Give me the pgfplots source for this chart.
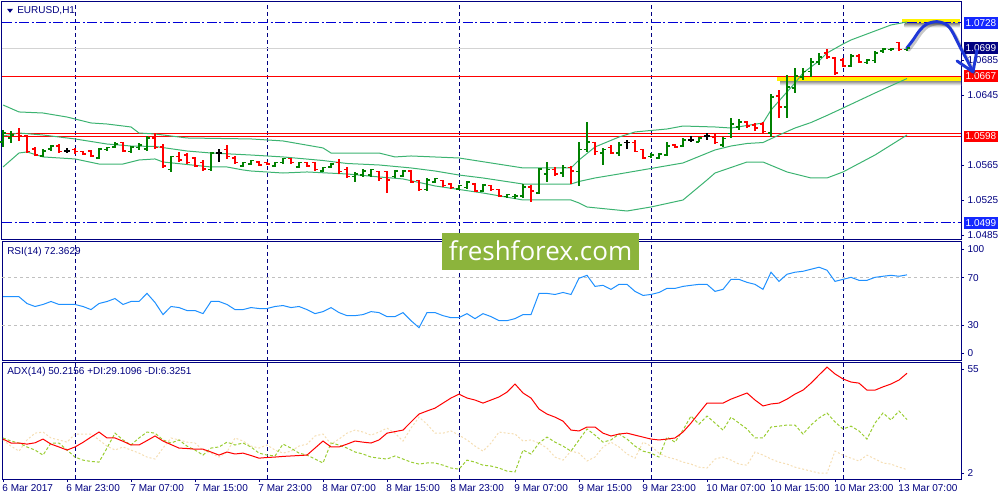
\documentclass[border=0pt]{standalone}
\usepackage{pgfplots}
\pgfplotsset{compat=1.18}
\usepackage{pgfplotstable}
\usepackage{fontspec}
\setmainfont{Liberation Sans}
\newfontfamily\wmfont{Open Sans}
\newcommand\lbl{\fontsize{7.5}{8}\selectfont}
\definecolor{navy}{RGB}{0,0,128}
\definecolor{mtblue}{RGB}{20,40,255}
\definecolor{lvlblue}{RGB}{0,0,215}
\definecolor{bargreen}{RGB}{0,128,0}
\definecolor{barred}{RGB}{255,0,0}
\definecolor{bb}{RGB}{60,179,113}
\definecolor{dodger}{RGB}{30,144,255}
\definecolor{ygreen}{RGB}{154,205,50}
\definecolor{wheat}{RGB}{245,222,179}
\definecolor{lgray}{RGB}{211,211,211}
\definecolor{rsigray}{RGB}{192,192,192}
\definecolor{wmgreen}{RGB}{140,180,60}
\definecolor{arrowblue}{RGB}{30,55,215}

\pgfdeclareplotmark{otick}{\pgfpathmoveto{\pgfqpoint{-2.4pt}{0pt}}\pgfpathlineto{\pgfqpoint{0pt}{0pt}}\pgfusepathqstroke}
\pgfdeclareplotmark{ctick}{\pgfpathmoveto{\pgfqpoint{0pt}{0pt}}\pgfpathlineto{\pgfqpoint{2.4pt}{0pt}}\pgfusepathqstroke}

\tikzset{pbox/.style={text=white, font=\lbl, inner xsep=1.3pt, inner ysep=0pt, minimum height=8.8pt, anchor=west, xshift=2pt}}

\newcommand\ohlc[2]{%
\addplot[#2, only marks, mark=otick, line width=0.8pt, mark options={solid},
  error bars/.cd, y dir=both, y explicit, error mark=none,
  error bar style={#2, line width=0.8pt, solid}]
  table[x=i, y=O, y error plus expr=\thisrow{H}-\thisrow{O}, y error minus expr=\thisrow{O}-\thisrow{L}] {#1};
\addplot[#2, only marks, mark=ctick, line width=0.8pt, mark options={solid}] table[x=i, y=C] {#1};
}

\pgfplotstableread{
i O H L C
-9 1.05917 1.06055 1.05860 1.06020
-8 1.05963 1.06043 1.05906 1.05997
-4 1.05757 1.05837 1.05746 1.05814
-3 1.05837 1.05883 1.05814 1.05871
3 1.05734 1.05849 1.05723 1.05837
4 1.05826 1.05860 1.05814 1.05849
5 1.05860 1.05917 1.05849 1.05894
7 1.05803 1.05871 1.05791 1.05860
8 1.05849 1.05906 1.05826 1.05883
9 1.05837 1.05986 1.05814 1.05963
12 1.05597 1.05757 1.05574 1.05746
17 1.05597 1.05803 1.05585 1.05791
21 1.05642 1.05688 1.05631 1.05677
22 1.05665 1.05711 1.05654 1.05700
25 1.05642 1.05688 1.05631 1.05677
26 1.05677 1.05734 1.05665 1.05723
28 1.05631 1.05688 1.05620 1.05677
31 1.05585 1.05631 1.05574 1.05620
32 1.05631 1.05677 1.05620 1.05665
35 1.05517 1.05574 1.05459 1.05551
36 1.05539 1.05608 1.05517 1.05585
37 1.05539 1.05608 1.05517 1.05597
40 1.05517 1.05597 1.05505 1.05585
41 1.05528 1.05597 1.05517 1.05585
44 1.05368 1.05505 1.05356 1.05482
45 1.05459 1.05505 1.05448 1.05494
48 1.05379 1.05425 1.05368 1.05414
49 1.05391 1.05471 1.05379 1.05459
51 1.05356 1.05436 1.05345 1.05425
54 1.05288 1.05322 1.05276 1.05311
55 1.05288 1.05322 1.05265 1.05299
56 1.05299 1.05436 1.05276 1.05402
58 1.05333 1.05620 1.05322 1.05608
59 1.05551 1.05688 1.05459 1.05597
61 1.05562 1.05654 1.05517 1.05620
63 1.05574 1.05917 1.05414 1.05826
64 1.05826 1.06146 1.05803 1.05917
66 1.05791 1.05849 1.05654 1.05826
68 1.05791 1.05917 1.05757 1.05883
72 1.05746 1.05791 1.05734 1.05768
73 1.05734 1.05791 1.05723 1.05780
74 1.05768 1.05917 1.05757 1.05871
76 1.05871 1.05963 1.05860 1.05940
78 1.05917 1.05974 1.05917 1.05963
81 1.05883 1.05974 1.05860 1.05952
82 1.06009 1.06192 1.05963 1.06123
83 1.06089 1.06180 1.06055 1.06146
87 1.06020 1.06467 1.05974 1.06432
89 1.06318 1.06684 1.06192 1.06547
90 1.06535 1.06764 1.06478 1.06673
91 1.06661 1.06764 1.06627 1.06719
92 1.06719 1.06879 1.06661 1.06833
93 1.06833 1.06936 1.06799 1.06890
97 1.06787 1.06925 1.06776 1.06902
99 1.06822 1.06867 1.06810 1.06856
100 1.06845 1.06959 1.06822 1.06936
101 1.06959 1.06993 1.06936 1.06982
102 1.06971 1.06993 1.06959 1.06982
104 1.06971 1.07005 1.06959 1.06993
}\greenbars

\pgfplotstableread{
i O H L C
-7 1.06009 1.06077 1.05929 1.05986
-6 1.05986 1.05997 1.05791 1.05803
-5 1.05837 1.05860 1.05757 1.05768
-2 1.05871 1.05894 1.05791 1.05803
0 1.05826 1.05849 1.05780 1.05803
1 1.05803 1.05814 1.05768 1.05780
2 1.05814 1.05826 1.05746 1.05757
6 1.05906 1.05917 1.05803 1.05814
10 1.05963 1.06020 1.05837 1.05849
11 1.05860 1.05894 1.05620 1.05642
13 1.05746 1.05803 1.05688 1.05711
14 1.05768 1.05791 1.05665 1.05677
15 1.05734 1.05746 1.05631 1.05642
16 1.05677 1.05711 1.05585 1.05608
19 1.05826 1.05883 1.05723 1.05746
20 1.05734 1.05757 1.05665 1.05677
23 1.05688 1.05700 1.05642 1.05654
24 1.05677 1.05688 1.05654 1.05665
27 1.05723 1.05734 1.05665 1.05677
29 1.05677 1.05688 1.05631 1.05642
30 1.05677 1.05688 1.05585 1.05597
33 1.05677 1.05723 1.05551 1.05574
34 1.05597 1.05631 1.05505 1.05517
38 1.05574 1.05585 1.05471 1.05494
39 1.05574 1.05585 1.05333 1.05482
42 1.05585 1.05597 1.05448 1.05459
43 1.05471 1.05482 1.05356 1.05368
46 1.05471 1.05482 1.05402 1.05414
47 1.05436 1.05448 1.05379 1.05391
50 1.05436 1.05448 1.05345 1.05356
52 1.05414 1.05425 1.05356 1.05368
53 1.05368 1.05379 1.05288 1.05299
57 1.05402 1.05425 1.05230 1.05356
60 1.05597 1.05631 1.05528 1.05551
62 1.05620 1.05642 1.05436 1.05585
65 1.05906 1.05917 1.05768 1.05803
67 1.05849 1.05883 1.05780 1.05791
70 1.05906 1.05940 1.05803 1.05803
71 1.05826 1.05837 1.05723 1.05734
75 1.05883 1.05894 1.05849 1.05860
80 1.05974 1.06009 1.05894 1.05906
84 1.06146 1.06157 1.06077 1.06100
85 1.06112 1.06135 1.06043 1.06077
86 1.06123 1.06146 1.06020 1.06032
88 1.06444 1.06513 1.06192 1.06318
94 1.06936 1.06982 1.06867 1.06890
95 1.06879 1.06890 1.06684 1.06707
96 1.06856 1.06879 1.06776 1.06787
98 1.06902 1.06925 1.06822 1.06833
103 1.07051 1.07062 1.06959 1.06971
}\redbars

\pgfplotstableread{
i O H L C
-1 1.05814 1.05849 1.05791 1.05814
18 1.05791 1.05837 1.05688 1.05791
69 1.05906 1.05940 1.05837 1.05906
77 1.05940 1.05986 1.05917 1.05940
79 1.05986 1.06020 1.05940 1.05986
}\blackbars

\pgfplotstableread{
i p
-9 1.06341
-7 1.06261
-4 1.06249
-1 1.06203
2 1.06135
4 1.06123
7 1.06089
8 1.06020
10 1.06009
14 1.05963
22 1.05952
26 1.05929
31 1.05849
32 1.05791
38 1.05791
40 1.05746
42 1.05757
48 1.05734
52 1.05677
56 1.05620
62 1.05620
63 1.05711
65 1.05860
68 1.05974
70 1.06032
74 1.06066
76 1.06100
80 1.06089
82 1.06077
86 1.06135
87 1.06283
88 1.06387
89 1.06490
90 1.06593
91 1.06707
93 1.06845
94 1.06936
96 1.07039
97 1.07085
100 1.07188
102 1.07257
104 1.07291
}\bbup

\pgfplotstableread{
i p
-9 1.05986
-7 1.06020
-4 1.05997
0 1.05952
4 1.05894
7 1.05871
10 1.05866
14 1.05814
17 1.05791
22 1.05768
26 1.05746
31 1.05705
34 1.05671
38 1.05654
42 1.05620
45 1.05585
48 1.05539
51 1.05505
56 1.05436
62 1.05436
63 1.05465
65 1.05505
68 1.05551
72 1.05614
76 1.05677
80 1.05826
82 1.05871
84 1.05900
86 1.05911
88 1.05997
90 1.06077
92 1.06140
94 1.06221
96 1.06306
100 1.06478
104 1.06644
}\bbmid

\pgfplotstableread{
i p
-9 1.05631
-7 1.05791
-6 1.05803
-4 1.05746
0 1.05723
3 1.05665
6 1.05665
8 1.05711
10 1.05723
11 1.05688
17 1.05631
19 1.05631
21 1.05597
22 1.05585
26 1.05562
29 1.05574
34 1.05551
38 1.05517
41 1.05494
45 1.05414
51 1.05333
56 1.05253
62 1.05253
63 1.05219
64 1.05173
69 1.05127
72 1.05173
76 1.05253
79 1.05482
80 1.05562
84 1.05688
86 1.05688
89 1.05574
92 1.05505
94 1.05505
96 1.05574
100 1.05768
104 1.05997
}\bblow

\pgfplotstableread{
i v
-9 54.0
-8 54.0
-7 54.0
-6 48.3
-5 45.8
-4 47.5
-3 50.0
-2 47.5
-1 47.5
0 47.5
1 45.8
2 43.2
3 48.3
4 50.0
5 52.5
6 47.5
7 50.0
8 50.0
9 56.8
10 49.2
11 39.0
12 45.8
13 44.9
14 42.4
15 42.4
16 39.8
17 50.0
18 50.0
19 47.5
20 43.2
21 43.2
22 44.9
23 44.1
24 44.1
25 45.8
26 46.6
27 44.9
28 45.8
29 43.2
30 39.8
31 41.5
32 44.9
33 40.7
34 38.1
35 38.1
36 39.0
37 41.5
38 40.7
39 37.3
40 37.3
41 40.7
42 33.9
43 28.0
44 40.7
45 40.7
46 38.1
47 36.4
48 36.4
49 39.8
50 35.6
51 39.8
52 37.3
53 33.9
54 33.9
55 35.6
56 39.0
57 39.0
58 56.8
59 56.8
60 55.9
61 57.6
62 55.9
63 69.5
64 72.0
65 62.7
66 63.6
67 60.2
68 64.4
69 64.4
70 58.5
71 55.1
72 55.9
73 57.6
74 61.0
75 61.0
76 62.7
77 63.6
78 64.4
79 64.4
80 58.5
81 60.2
82 68.6
83 68.6
84 66.1
85 64.4
86 60.2
87 74.6
88 66.9
89 72.9
90 74.6
91 75.4
92 77.1
93 78.8
94 76.3
95 66.9
96 68.6
97 70.3
98 67.8
99 67.8
100 70.3
101 71.2
102 72.0
103 71.2
104 72.4
}\rsi

\pgfplotstableread{
i adx pdi mdi
-9 20.2 20.7 19.8
-8 18.4 19.3 17.0
-7 18.4 18.4 14.7
-6 17.9 16.6 19.8
-5 18.5 15.2 22.9
-4 20.2 12.9 23.4
-3 17.9 18.4 20.7
-2 16.6 18.4 19.8
-1 15.2 15.2 18.8
0 16.6 12.0 22.5
1 18.7 10.6 22.5
2 21.1 10.0 22.5
3 23.4 9.7 19.8
4 20.7 16.1 17.0
5 20.7 22.9 15.2
6 19.2 19.8 16.6
7 17.5 17.5 15.2
8 17.5 20.7 13.8
9 19.5 23.4 12.0
10 21.6 22.9 11.1
11 19.3 19.8 16.1
12 17.7 18.4 20.7
13 16.1 19.8 19.8
14 15.9 17.0 18.8
15 15.6 15.2 18.4
16 15.6 12.9 15.2
17 14.3 16.1 13.8
18 12.9 16.6 12.0
19 14.3 18.8 14.3
20 13.4 17.5 20.7
21 13.8 18.4 19.3
22 12.7 16.6 17.0
23 11.5 13.8 16.1
24 11.8 12.9 17.5
25 12.0 12.5 15.2
26 12.3 17.9 13.8
27 12.5 16.1 14.7
28 12.7 13.8 17.0
29 12.9 12.9 17.9
30 16.1 11.1 21.6
31 19.3 9.3 22.5
32 16.6 18.4 17.9
33 16.6 17.5 20.2
34 17.9 16.1 22.9
35 19.3 14.3 24.3
36 18.8 13.4 23.4
37 18.4 12.0 22.0
38 19.8 11.5 23.4
39 22.9 11.1 25.2
40 23.6 12.5 22.9
41 24.3 11.1 19.3
42 28.0 9.7 25.2
43 31.6 8.8 30.2
44 33.0 9.3 27.0
45 34.3 9.3 22.9
46 36.6 8.3 22.9
47 38.9 7.0 23.9
48 40.7 6.5 22.0
49 38.9 10.6 19.8
50 38.0 9.7 17.0
51 36.6 8.3 14.7
52 38.0 7.9 18.4
53 39.4 7.0 23.4
54 41.6 5.6 22.9
55 45.3 5.2 22.5
56 41.2 15.2 19.3
57 38.9 13.4 19.8
58 33.9 18.4 18.4
59 31.6 21.1 16.1
60 30.2 18.8 12.0
61 28.4 17.0 10.6
62 24.3 14.7 14.7
63 23.9 19.8 13.8
64 25.7 24.8 10.2
65 25.7 22.0 12.0
66 22.9 18.8 16.6
67 21.6 19.8 18.8
68 22.5 22.5 16.6
69 22.9 20.2 13.4
70 22.0 17.0 11.5
71 21.1 14.7 18.8
72 20.2 13.8 17.0
73 19.8 12.0 13.8
74 20.2 21.1 12.0
75 20.7 18.8 11.1
76 23.4 24.3 9.7
77 27.5 30.7 8.8
78 32.1 27.0 7.4
79 36.6 30.7 7.0
80 36.6 27.5 11.1
81 36.6 24.3 12.0
82 38.4 30.2 10.6
83 39.8 27.5 8.8
84 41.2 24.8 8.3
85 38.0 20.7 14.3
86 35.3 20.7 12.9
87 36.2 25.7 11.1
88 36.6 26.1 9.7
89 38.4 26.6 8.8
90 40.7 26.6 7.4
91 42.5 22.5 6.5
92 45.7 26.6 5.6
93 49.4 29.8 4.7
94 53.0 32.1 4.7
95 49.9 28.0 14.7
96 47.6 24.8 12.9
97 46.2 26.1 11.5
98 45.7 23.9 10.2
99 42.5 20.2 12.9
100 42.5 27.5 11.1
101 44.0 32.1 9.3
102 45.3 28.9 8.8
103 47.1 33.0 7.4
104 50.2 29.1 6.3
}\adx

\pgfplotsset{
  mtpanel/.style={
    scale only axis, anchor=south west, width=719.25pt,
    xmin=-9.125, xmax=110.75,
    axis line style={navy, line width=0.75pt},
    major grid style={navy, line width=0.75pt, dash pattern=on 3pt off 2.25pt},
    ytick pos=right, yticklabel pos=right,
    ytick style={navy, line width=0.75pt},
    tick align=outside, major tick length=2.25pt,
    yticklabel style={font=\lbl, text=navy, anchor=west, inner sep=0pt, xshift=2.5pt},
    scaled y ticks=false,
  },
  dayticks/.style={xtick={0,24,48,72,96}, xticklabels={}, xtick style={draw=none}, xmajorgrids},
}

\begin{document}
\begin{tikzpicture}
\useasboundingbox (0,0) rectangle (750pt,375pt);

% ---------------- main price panel
\begin{axis}[mtpanel, dayticks, at={(1.5pt,195pt)}, height=178.5pt,
  ymin=1.04795, ymax=1.0752,
  ytick={1.0485,1.0525,1.0565,1.0645,1.0685},
  yticklabels={1.0485,1.0525,1.0565,1.0645,1.0685},
  clip=false]
% highlight rectangles with shadows
\shade[top color=black!45, bottom color=white] (axis cs:88.2,1.06616) rectangle (axis cs:110.75,1.06565);
\fill[yellow] (axis cs:87.75,1.06673) rectangle (axis cs:110.75,1.06616);
\shade[top color=black!45, bottom color=white] (axis cs:103.7,1.07274) rectangle (axis cs:110.6,1.07228);
\fill[yellow] (axis cs:103.4,1.07326) rectangle (axis cs:110.6,1.07274);
% levels
\addplot[lgray, line width=0.75pt] coordinates {(-9.125,1.0699) (110.75,1.0699)};
\addplot[lvlblue, line width=0.75pt, dash pattern=on 7.5pt off 1.9pt on 1.5pt off 1.9pt] coordinates {(-9.125,1.0728) (110.75,1.0728)};
\addplot[lvlblue, line width=0.75pt, dash pattern=on 7.5pt off 1.9pt on 1.5pt off 1.9pt] coordinates {(-9.125,1.0499) (110.75,1.0499)};
\addplot[barred, line width=0.75pt] coordinates {(-9.125,1.0667) (110.75,1.0667)};
\addplot[barred, line width=0.75pt] coordinates {(-9.125,1.0601) (110.75,1.0601)};
\addplot[barred, line width=0.75pt] coordinates {(-9.125,1.0598) (110.75,1.0598)};
% Bollinger bands
\addplot[bb, line width=0.75pt] table[x=i,y=p] {\bbup};
\addplot[bb, line width=0.75pt] table[x=i,y=p] {\bbmid};
\addplot[bb, line width=0.75pt] table[x=i,y=p] {\bblow};
% bars
\ohlc{\greenbars}{bargreen}
\ohlc{\redbars}{barred}
\ohlc{\blackbars}{black}
% price boxes
\node[pbox, fill=mtblue] at (axis cs:110.75,1.0728) {1.0728};
\node[pbox, fill=navy] at (axis cs:110.75,1.0699) {1.0699};
\node[pbox, fill=barred] at (axis cs:110.75,1.0667) {1.0667};
\node[pbox, fill=barred] at (axis cs:110.75,1.0598) {1.0598};
\node[pbox, fill=mtblue] at (axis cs:110.75,1.0499) {1.0499};
% arrow (shadow + stroke)
\addplot[smooth, tension=0.55, line width=2.2pt, black, opacity=0.22, line cap=round] coordinates {(104.21,1.06967) (105.0,1.07062) (105.88,1.07177) (106.75,1.07245) (108.0,1.07272) (109.25,1.07234) (110.0,1.07142) (110.88,1.06982) (111.75,1.06833) (112.5,1.06696)};
\addplot[smooth, tension=0.55, line width=2.2pt, arrowblue, line cap=round] coordinates {(103.96,1.0699) (104.75,1.07085) (105.63,1.072) (106.5,1.07268) (107.75,1.07295) (109.0,1.07257) (109.75,1.07165) (110.63,1.07005) (111.5,1.06856) (112.25,1.06719)};
\addplot[line width=2.2pt, arrowblue, line cap=round, line join=round] coordinates {(110.25,1.06845) (112.25,1.06719) (112.75,1.06971)};
\end{axis}

% ---------------- RSI panel
\begin{axis}[mtpanel, dayticks, at={(1.5pt,104.25pt)}, height=89.25pt,
  ymin=0, ymax=100, ytick={6.7,30,70,94.1}, yticklabels={0,30,70,100}]
\addplot[rsigray, line width=0.75pt, dash pattern=on 2.25pt off 2.25pt] coordinates {(-9.125,30) (110.75,30)};
\addplot[rsigray, line width=0.75pt, dash pattern=on 2.25pt off 2.25pt] coordinates {(-9.125,70) (110.75,70)};
\addplot[dodger, line width=0.75pt] table[x=i,y=v] {\rsi};
\end{axis}

% ---------------- ADX panel
\begin{axis}[mtpanel, at={(1.5pt,15.75pt)}, height=87.2pt,
  ymin=2, ymax=55, ytick={4.7,52.1}, yticklabels={2,55},
  xtick={-9,-1,7,15,23,31,39,47,55,63,71,79,87,95,103},
  xticklabels={6 Mar 2017,6 Mar 23:00,7 Mar 07:00,7 Mar 15:00,7 Mar 23:00,8 Mar 07:00,8 Mar 15:00,8 Mar 23:00,9 Mar 07:00,9 Mar 15:00,9 Mar 23:00,10 Mar 07:00,10 Mar 15:00,10 Mar 23:00,13 Mar 07:00},
  xtick pos=bottom, xtick style={navy, line width=0.75pt},
  xticklabel style={font=\lbl, text=navy, anchor=north west, inner sep=0pt, xshift=-0.6pt, yshift=-1.5pt},
  extra x ticks={0,24,48,72,96}, extra x tick labels={},
  extra x tick style={grid=major, major tick length=0pt}]
\addplot[wheat, line width=0.75pt, dash pattern=on 1.5pt off 1.5pt] table[x=i,y=mdi] {\adx};
\addplot[ygreen, line width=0.75pt, dash pattern=on 2.25pt off 1.5pt] table[x=i,y=pdi] {\adx};
\addplot[barred, line width=0.75pt] table[x=i,y=adx] {\adx};
\end{axis}

% ---------------- panel captions
\fill[navy] (5.25pt,368.4pt) -- (9.75pt,368.4pt) -- (7.5pt,365.4pt) -- cycle;
\node[anchor=west, font=\lbl, text=navy, inner sep=0pt] at (12.75pt,367.1pt) {EURUSD,H1};
\node[anchor=west, font=\lbl, text=navy, inner sep=0pt] at (5.25pt,186.4pt) {RSI(14) 72.3629};
\node[anchor=west, font=\lbl, text=navy, inner sep=0pt] at (5.25pt,96pt) {ADX(14) 50.2156 +DI:29.1096 -DI:6.3251};

% ---------------- watermark
\fill[wmgreen] (331.5pt,172.5pt) rectangle (479.25pt,200.25pt);
\node[anchor=base, text=white, font=\wmfont\fontsize{19.5}{20}\selectfont, inner sep=0pt] at (405.4pt,179.6pt) {freshforex.com};
\end{tikzpicture}
\end{document}
